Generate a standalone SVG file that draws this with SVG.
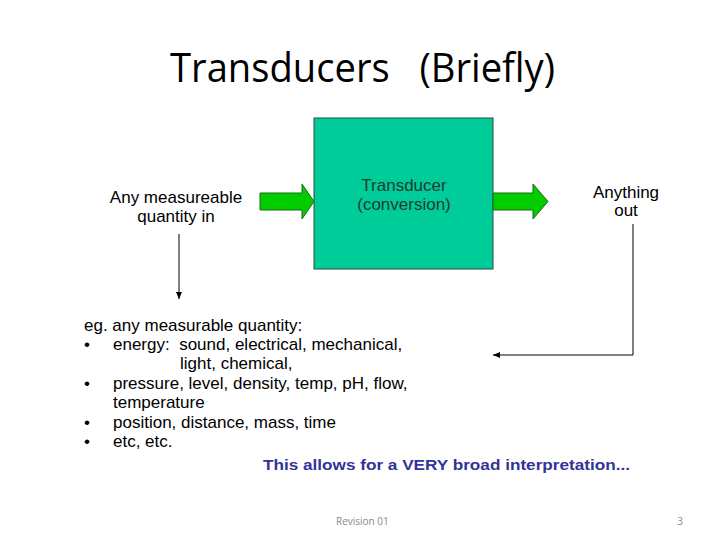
<svg xmlns="http://www.w3.org/2000/svg" width="728" height="546" viewBox="0 0 728 546">
<style>
text{white-space:pre}
.t{font-family:"Liberation Sans",Arial,sans-serif;fill:#000}
.lbl{font-size:17px}
.lst{font-size:17px}
.ln{stroke:#000;stroke-width:1;fill:none}
.big{fill:#00cc00;stroke:#1a6a1a;stroke-width:1}
</style>
<defs>
<marker id="ah" markerWidth="8" markerHeight="8" refX="7" refY="4" orient="auto" markerUnits="userSpaceOnUse">
<path d="M0,1 L7,4 L0,7 Z" fill="#000"/>
</marker>
</defs>
<rect width="728" height="546" fill="#fff"/>
<text x="170" y="82" xml:space="preserve" font-family="'Open Sans','Liberation Sans',sans-serif" font-size="40" textLength="385" lengthAdjust="spacingAndGlyphs">Transducers   (Briefly)</text>
<g id="transducer">
<rect x="314" y="118" width="179" height="151" fill="#00cc99" stroke="#2a4a3a" stroke-width="1"/>
<text class="t lbl" x="404" y="191" text-anchor="middle" style="fill:#1e3a30">Transducer</text>
<text class="t lbl" x="404" y="210" text-anchor="middle" style="fill:#1e3a30">(conversion)</text>
</g>
<g id="input">
<text class="t lbl" x="176" y="203" text-anchor="middle">Any measureable</text>
<text class="t lbl" x="176" y="222" text-anchor="middle">quantity in</text>
</g>
<g id="output">
<text class="t lbl" x="626" y="198" text-anchor="middle">Anything</text>
<text class="t lbl" x="626" y="216" text-anchor="middle">out</text>
</g>
<g id="examples">
<text class="t lst" x="84" y="331">eg. any measurable quantity:</text>
<text class="t lst" x="84" y="350">•</text>
<text class="t lst" x="113" y="350" xml:space="preserve">energy:  sound, electrical, mechanical,</text>
<text class="t lst" x="180" y="369">light, chemical,</text>
<text class="t lst" x="84" y="389">•</text>
<text class="t lst" x="113" y="389">pressure, level, density, temp, pH, flow,</text>
<text class="t lst" x="113" y="408">temperature</text>
<text class="t lst" x="84" y="428">•</text>
<text class="t lst" x="113" y="428">position, distance, mass, time</text>
<text class="t lst" x="84" y="447">•</text>
<text class="t lst" x="113" y="447">etc, etc.</text>
</g>
<g id="note">
<text x="263" y="470" font-family="'Liberation Sans',Arial,sans-serif" font-size="15" font-weight="bold" fill="#333399" textLength="367" lengthAdjust="spacingAndGlyphs">This allows for a VERY broad interpretation...</text>
</g>
<g id="connectors">
<path class="big" d="M260,193 H302 V184 L314,201.5 L302,219 V210 H260 Z"/>
<path class="big" d="M493,193 H533 V184 L548,201.5 L533,219 V210 H493 Z"/>
<path class="ln" d="M179,234 V299" marker-end="url(#ah)"/>
<path class="ln" d="M633,224 V355 H493" marker-end="url(#ah)"/>
</g>
<g id="footer">
<text x="336" y="525" font-family="'Open Sans','Liberation Sans',sans-serif" font-size="10" fill="#888">Revision 01</text>
<text x="683" y="525" font-family="'Open Sans','Liberation Sans',sans-serif" font-size="10" fill="#888" text-anchor="end">3</text>
</g>
</svg>
